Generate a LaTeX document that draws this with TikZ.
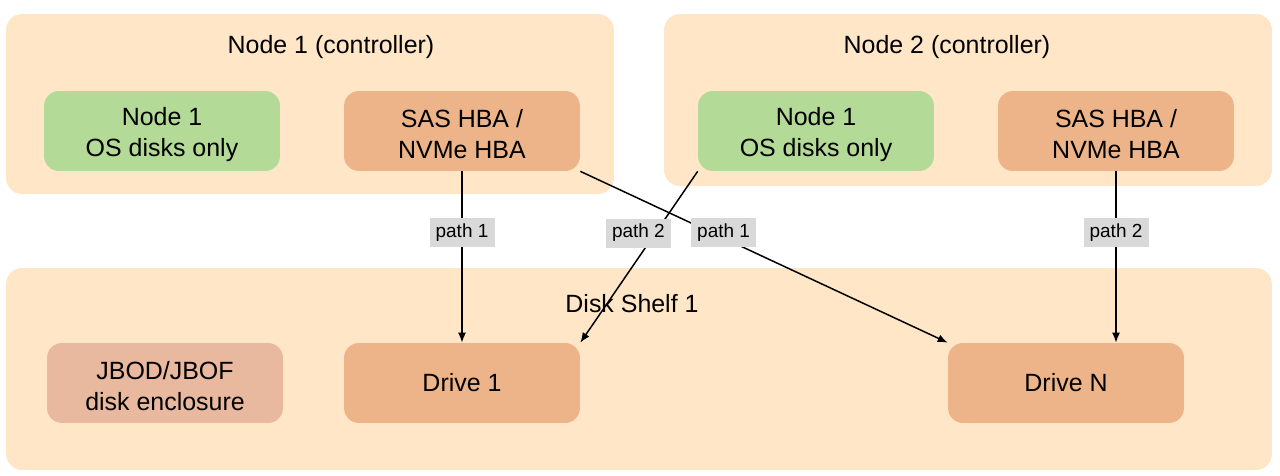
\documentclass[tikz,border=0pt]{standalone}
\usepackage{fontspec}
\setmainfont{Liberation Sans}
\usetikzlibrary{arrows.meta}
\definecolor{shelfbg}{HTML}{FFE6C6}
\definecolor{osgreen}{HTML}{B3DA96}
\definecolor{hbaorange}{HTML}{EDB48A}
\definecolor{jbodpink}{HTML}{E8B99E}
\definecolor{pathgray}{HTML}{D9D9D9}
\begin{document}
\begin{tikzpicture}[x=0.02cm,y=-0.02cm,
  group/.style={fill=shelfbg,rounded corners=0.32cm,inner sep=0pt},
  box/.style={rounded corners=0.3cm,minimum width=4.72cm,minimum height=1.6cm,
    align=center,inner sep=0pt,font=\fontsize{14.2}{17.6}\selectfont},
  twoline/.style={box,text height=31.5pt},
  title/.style={font=\fontsize{14.2}{17.6}\selectfont},
  pathlbl/.style={fill=pathgray,inner sep=0pt,minimum width=1.3cm,minimum height=0.58cm,
    font=\fontsize{10.8}{13}\selectfont},
  link/.style={line width=0.85pt,-{Latex[length=0.2cm,width=0.16cm]}}]
\useasboundingbox (0,0) rectangle (1280,476);

\node[group,minimum width=12.16cm,minimum height=3.6cm] (ctrlA) at (310,104) {};
\node[title] (ctrlAtitle) at (331,47) {Node 1 (controller)};

\node[group,minimum width=12.16cm,minimum height=3.44cm] (ctrlB) at (968,100) {};
\node[title] (ctrlBtitle) at (947,47) {Node 2 (controller)};

\node[group,minimum width=25.32cm,minimum height=4.04cm] (shelf) at (639,369) {};
\node[title] (shelftitle) at (632,304) {Disk Shelf 1};

\node[twoline,fill=osgreen] (osA) at (162,131) {Node 1\\OS disks only};
\node[twoline,fill=hbaorange] (hbaA) at (462,131) {SAS HBA /\\NVMe HBA};

\node[twoline,fill=osgreen] (osB) at (816,131) {Node 1\\OS disks only};
\node[twoline,fill=hbaorange] (hbaB) at (1116,131) {SAS HBA /\\NVMe HBA};

\node[twoline,fill=jbodpink] (jbod) at (165,383) {JBOD/JBOF\\disk enclosure};
\node[box,fill=hbaorange] (driveA) at (462,383) {Drive 1};
\node[box,fill=hbaorange] (driveN) at (1066,383) {Drive N};

\draw[link] (hbaA.south) -- node[pathlbl,pos=0.355] (pA1) {path 1} (driveA.north);
\draw[link] (hbaA.south east) -- node[pathlbl,pos=0.39,yshift=0.12cm] (pA2) {path 1} (driveN.north west);
\draw[link] (osB.south west) -- node[pathlbl,pos=0.36,xshift=-0.34cm] (pB1) {path 2} (driveA.north east);
\draw[link] (hbaB.south) -- node[pathlbl,pos=0.355] (pB2) {path 2} (hbaB.south |- driveN.north);
\end{tikzpicture}
\end{document}
